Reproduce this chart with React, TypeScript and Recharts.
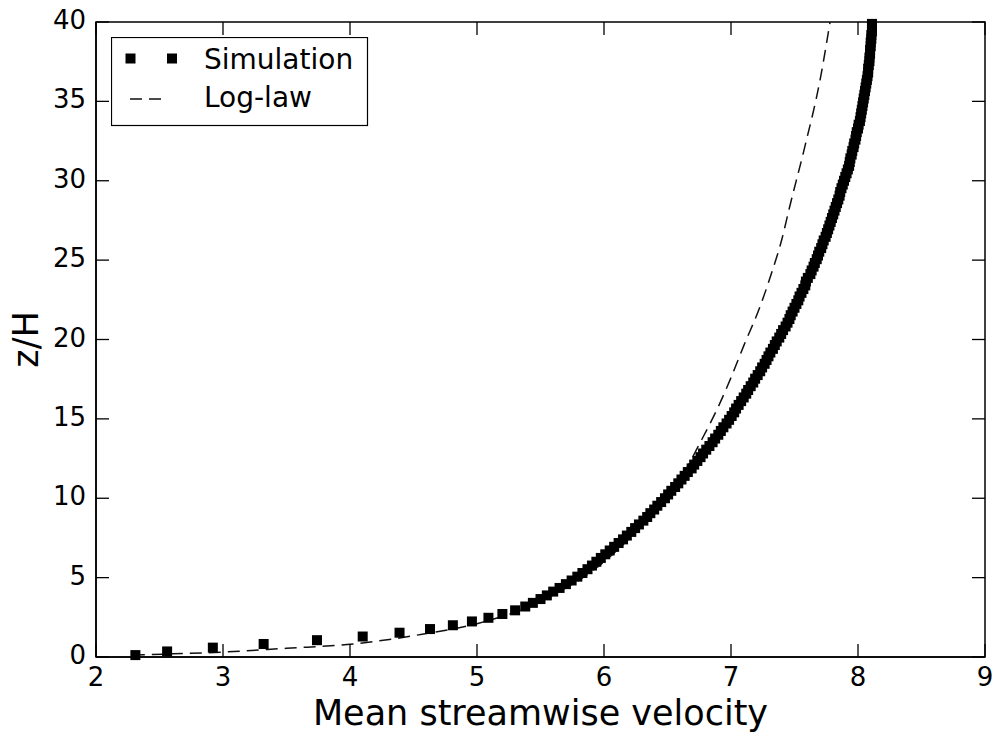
import { ScatterChart, Scatter, XAxis, YAxis, ReferenceArea, Legend } from 'recharts'

// simulation profile: height z/H and mean streamwise velocity
const simZ = [
  0.12, 0.35, 0.59, 0.82, 1.06, 1.29, 1.53, 1.76, 2.0, 2.24, 2.47, 2.71, 2.94, 3.18, 3.41, 3.65, 3.88,
  4.12, 4.35, 4.59, 4.82, 5.06, 5.29, 5.53, 5.76, 6.0, 6.24, 6.47, 6.71, 6.94, 7.18, 7.41, 7.65, 7.88,
  8.12, 8.35, 8.59, 8.82, 9.06, 9.29, 9.53, 9.76, 10.0, 10.24, 10.47, 10.71, 10.94, 11.18, 11.41, 11.65, 11.88,
  12.12, 12.35, 12.59, 12.82, 13.06, 13.29, 13.53, 13.76, 14.0, 14.24, 14.47, 14.71, 14.94, 15.18, 15.41, 15.65, 15.88,
  16.12, 16.35, 16.59, 16.82, 17.06, 17.29, 17.53, 17.76, 18.0, 18.24, 18.47, 18.71, 18.94, 19.18, 19.41, 19.65, 19.88,
  20.12, 20.35, 20.59, 20.82, 21.06, 21.29, 21.53, 21.76, 22.0, 22.24, 22.47, 22.71, 22.94, 23.18, 23.41, 23.65, 23.88,
  24.12, 24.35, 24.59, 24.82, 25.06, 25.29, 25.53, 25.76, 26.0, 26.24, 26.47, 26.71, 26.94, 27.18, 27.41, 27.65, 27.88,
  28.12, 28.35, 28.59, 28.82, 29.06, 29.29, 29.53, 29.76, 30.0, 30.24, 30.47, 30.71, 30.94, 31.18, 31.41, 31.65, 31.88,
  32.12, 32.35, 32.59, 32.82, 33.06, 33.29, 33.53, 33.76, 34.0, 34.24, 34.47, 34.71, 34.94, 35.18, 35.41, 35.65, 35.88,
  36.12, 36.35, 36.59, 36.82, 37.06, 37.29, 37.53, 37.76, 38.0, 38.24, 38.47, 38.71, 38.94, 39.18, 39.41, 39.65, 39.88,
]
const simU = [
  2.31, 2.56, 2.92, 3.32, 3.74, 4.1, 4.39, 4.63, 4.81, 4.96, 5.09, 5.2, 5.3, 5.38, 5.44, 5.5, 5.55,
  5.6, 5.65, 5.7, 5.745, 5.79, 5.83, 5.87, 5.905, 5.94, 5.975, 6.01, 6.045, 6.08, 6.115, 6.15, 6.18, 6.215,
  6.245, 6.275, 6.31, 6.34, 6.365, 6.395, 6.42, 6.45, 6.48, 6.505, 6.53, 6.56, 6.585, 6.61, 6.635, 6.66, 6.69,
  6.71, 6.735, 6.76, 6.78, 6.805, 6.83, 6.855, 6.875, 6.9, 6.92, 6.94, 6.965, 6.985, 7.005, 7.025, 7.04, 7.06,
  7.08, 7.1, 7.12, 7.135, 7.155, 7.175, 7.19, 7.21, 7.23, 7.245, 7.265, 7.28, 7.295, 7.31, 7.33, 7.345, 7.36,
  7.38, 7.395, 7.41, 7.43, 7.445, 7.46, 7.47, 7.485, 7.5, 7.515, 7.53, 7.54, 7.555, 7.57, 7.585, 7.59, 7.605,
  7.625, 7.635, 7.65, 7.66, 7.675, 7.685, 7.695, 7.71, 7.72, 7.73, 7.745, 7.755, 7.765, 7.775, 7.785, 7.795, 7.805,
  7.815, 7.825, 7.835, 7.845, 7.855, 7.86, 7.87, 7.88, 7.89, 7.9, 7.91, 7.92, 7.93, 7.935, 7.94, 7.95, 7.955,
  7.965, 7.97, 7.98, 7.985, 7.99, 8.0, 8.005, 8.015, 8.02, 8.025, 8.03, 8.035, 8.04, 8.045, 8.05, 8.055, 8.06,
  8.065, 8.07, 8.075, 8.08, 8.08, 8.085, 8.09, 8.09, 8.095, 8.095, 8.1, 8.1, 8.105, 8.105, 8.11, 8.11, 8.11,
]

// log-law reference curve
const logU = [2.29, 2.6, 3.0, 3.5, 4.0, 4.58, 5.0, 5.5, 6.0, 6.3, 6.6, 6.77, 6.89, 7.0, 7.1, 7.23, 7.32, 7.4, 7.46, 7.58, 7.7, 7.78]
const logZ = [0.12, 0.2, 0.31, 0.55, 0.8, 1.45, 2.1, 3.5, 6.0, 8.3, 11.2, 13.7, 15.6, 17.6, 19.6, 22.1, 24.2, 26.3, 28.3, 32.1, 36.3, 40.0]

const xTicks = [2, 3, 4, 5, 6, 7, 8, 9]
const yTicks = [0, 5, 10, 15, 20, 25, 30, 35, 40]

const simData = simU.map((u, i) => ({ u, z: simZ[i] }))
const logData = logU.map((u, i) => ({ u, z: logZ[i] }))

const W = 994
const H = 734
const MARGIN = { top: 22, right: 9, bottom: 0, left: 0 }
const Y_AXIS_W = 96
const X_AXIS_H = 77
const PLOT_W = W - MARGIN.right - Y_AXIS_W
const PLOT_H = H - MARGIN.top - X_AXIS_H

const FONT = '"DejaVu Sans", sans-serif'
const TICK = 13
const DASH = '12 7'

// matplotlib-style ticks: inward marks mirrored on the opposite side of the frame
function BottomTick({ x, y, payload }: any) {
  return (
    <g>
      <line x1={x} y1={y} x2={x} y2={y - TICK} stroke="#000" strokeWidth={1.3} />
      <line x1={x} y1={y - PLOT_H} x2={x} y2={y - PLOT_H + TICK} stroke="#000" strokeWidth={1.3} />
      <text x={x} y={y + 29} textAnchor="middle" fontSize={26} fontFamily={FONT} fill="#000">
        {payload.value}
      </text>
    </g>
  )
}

function LeftTick({ x, y, payload }: any) {
  return (
    <g>
      <line x1={x} y1={y} x2={x + TICK} y2={y} stroke="#000" strokeWidth={1.3} />
      <line x1={x + PLOT_W} y1={y} x2={x + PLOT_W - TICK} y2={y} stroke="#000" strokeWidth={1.3} />
      <text x={x - 10} y={y + 7} textAnchor="end" fontSize={26} fontFamily={FONT} fill="#000">
        {payload.value}
      </text>
    </g>
  )
}

function XTitle({ viewBox }: any) {
  return (
    <text x={viewBox.x + viewBox.width / 2} y={viewBox.y + 68} textAnchor="middle" fontSize={35} fontFamily={FONT} fill="#000">
      Mean streamwise velocity
    </text>
  )
}

function YTitle({ viewBox }: any) {
  return (
    <text
      transform={`translate(${viewBox.x + 38},${viewBox.y + viewBox.height / 2}) rotate(-90)`}
      textAnchor="middle"
      fontSize={35}
      fontFamily={FONT}
      fill="#000"
    >
      z/H
    </text>
  )
}

function SquareMarker({ cx, cy }: any) {
  if (cx == null || cy == null) return null
  return <rect x={cx - 5} y={cy - 5} width={10} height={10} fill="#000" />
}

function NoMarker() {
  return <g />
}

function LegendBox() {
  return (
    <svg width={258} height={90} style={{ display: 'block' }}>
      <rect x={0.5} y={0.5} width={256} height={88} fill="#fff" stroke="#000" strokeWidth={1.2} />
      <rect x={14.5} y={16.5} width={10} height={10} fill="#000" />
      <rect x={56} y={16.5} width={10} height={10} fill="#000" />
      <text x={93} y={32} fontSize={28} fontFamily={FONT} fill="#000">Simulation</text>
      <line x1={19} y1={62} x2={52} y2={62} stroke="#111" strokeWidth={1.5} strokeDasharray={DASH} />
      <text x={93} y={70} fontSize={28} fontFamily={FONT} fill="#000">Log-law</text>
    </svg>
  )
}

export default function App() {
  return (
    <div style={{ width: W, height: H, background: '#fff' }}>
      <style>{'body{margin:0}'}</style>
      <ScatterChart width={W} height={H} margin={MARGIN}>
        <XAxis
          type="number"
          dataKey="u"
          domain={[2, 9]}
          ticks={xTicks}
          interval={0}
          height={X_AXIS_H}
          tickSize={0}
          tickMargin={0}
          tickLine={false}
          axisLine={{ stroke: '#000', strokeWidth: 1.5 }}
          tick={<BottomTick />}
          label={XTitle}
        />
        <YAxis
          type="number"
          dataKey="z"
          domain={[0, 40]}
          ticks={yTicks}
          interval={0}
          width={Y_AXIS_W}
          tickSize={0}
          tickMargin={0}
          tickLine={false}
          axisLine={{ stroke: '#000', strokeWidth: 1.5 }}
          tick={<LeftTick />}
          label={YTitle}
        />
        <ReferenceArea x1={2} x2={9} y1={0} y2={40} fill="none" fillOpacity={0} stroke="#000" strokeWidth={1.5} />
        <Scatter
          data={logData}
          dataKey="z"
          line={{ stroke: '#111', strokeWidth: 1.5, strokeDasharray: DASH }}
          lineJointType="monotoneX"
          shape={<NoMarker />}
          isAnimationActive={false}
        />
        <Scatter data={simData} dataKey="z" shape={<SquareMarker />} isAnimationActive={false} />
        <Legend
          layout="horizontal"
          verticalAlign="middle"
          align="center"
          content={<LegendBox />}
          wrapperStyle={{ position: 'absolute', left: 111, top: 37, width: 258, height: 90 }}
        />
      </ScatterChart>
    </div>
  )
}
